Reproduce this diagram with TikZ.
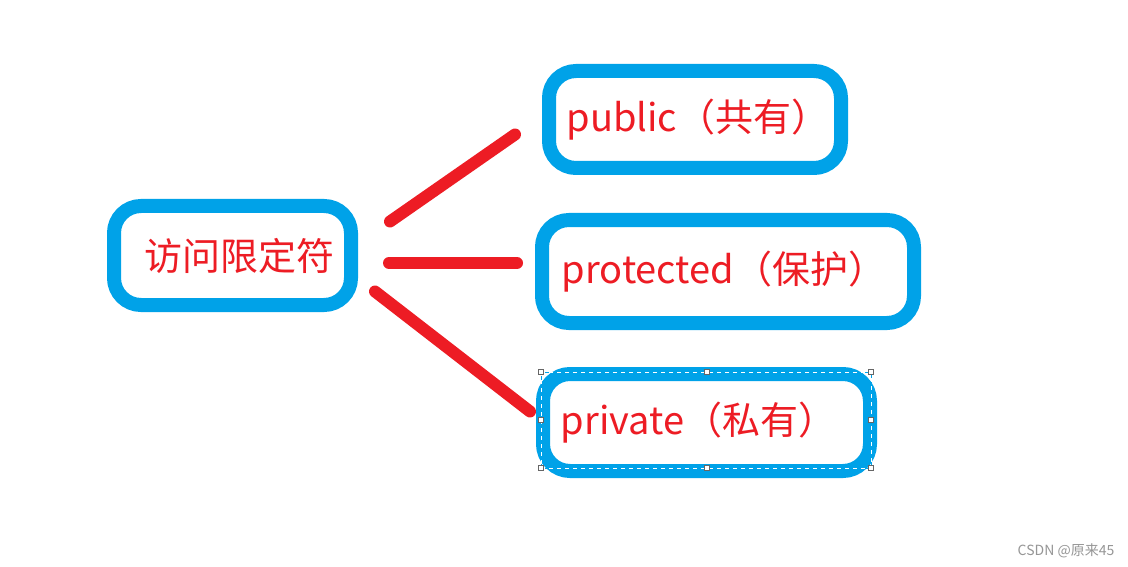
\documentclass[tikz,border=0pt]{standalone}
\usepackage{fontspec}
\setmainfont{Noto Sans CJK SC}
\definecolor{box}{RGB}{0,162,232}
\definecolor{lnk}{RGB}{237,28,36}
\definecolor{wm}{RGB}{150,150,150}

\begin{document}
\begin{tikzpicture}[x=1pt,y=-1pt,
  mod/.style={draw=box,line width=14pt,rounded corners=27pt,text=lnk,font=\fontsize{38}{44}\selectfont,inner sep=0pt},
  lnk/.style={draw=lnk,line width=12pt,line cap=round},
  hdl/.style={draw=gray!80!black,fill=white,line width=0.8pt,minimum size=5pt,inner sep=0pt}]
  \useasboundingbox[fill=white] (0,0) rectangle (1128,567);
  \node[mod,minimum width=237pt,minimum height=99pt] (acc) at (232.5,255.5) {\hspace*{14pt}访问限定符};
  \node[mod,minimum width=292pt,minimum height=97pt] (pub) at (695,119.5) {\hspace*{6pt}public（共有）};
  \node[mod,minimum width=372pt,minimum height=103pt] (pro) at (728,271.5) {\hspace*{-8pt}protected（保护）};
  \node[mod,minimum width=327pt,minimum height=97pt] (pri) at (706.5,422.5) {\hspace*{-16pt}private（私有）};
  \draw[lnk] ([xshift=32pt,yshift=34pt]acc.east) -- ([xshift=-27pt,yshift=-15pt]pub.west);
  \draw[lnk] ([xshift=31pt,yshift=-7.5pt]acc.east) -- ([xshift=-18pt,yshift=8.5pt]pro.west);
  \draw[lnk] ([xshift=17pt,yshift=-36pt]acc.east) -- ([xshift=-6pt,yshift=11pt]pri.west);
  % selection frame
  \draw[box,line width=0.8pt] ([xshift=-165.5pt,yshift=50.5pt]pri.center) rectangle ([xshift=164.5pt,yshift=-45.5pt]pri.center);
  \draw[white,line width=0.8pt,dash pattern=on 4pt off 4pt] ([xshift=-165.5pt,yshift=50.5pt]pri.center) rectangle ([xshift=164.5pt,yshift=-45.5pt]pri.center);
  \foreach \hx in {-165.5,0.5,164.5}
    \foreach \hy in {50.5,-45.5}
      \node[hdl] at ([xshift=\hx pt,yshift=\hy pt]pri.center) {};
  \node[hdl] at ([xshift=-165.5pt,yshift=2.5pt]pri.center) {};
  \node[hdl] at ([xshift=164.5pt,yshift=2.5pt]pri.center) {};
  \node[text=wm,font=\fontsize{14}{16}\selectfont] (wmk) at (1066,551) {CSDN @原来45};
\end{tikzpicture}
\end{document}
